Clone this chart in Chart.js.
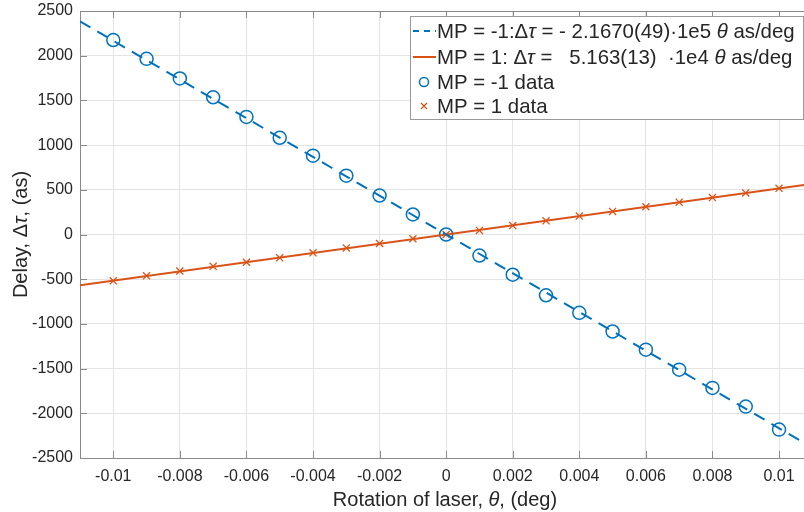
<!DOCTYPE html>
<html>
<head>
<meta charset="utf-8">
<script src="https://cdn.jsdelivr.net/npm/chart.js@4.4.1/dist/chart.umd.min.js"></script>
<style>
  html, body { margin: 0; padding: 0; background: #fff; overflow: hidden; }
  #wrap { width: 804px; height: 512px; overflow: hidden; }
</style>
</head>
<body>
<div id="wrap"><canvas id="delayChart" width="812" height="512"></canvas></div>
<script>
// rotation of laser (deg)
const theta = [-0.01, -0.009, -0.008, -0.007, -0.006, -0.005, -0.004, -0.003, -0.002, -0.001, 0,
               0.001, 0.002, 0.003, 0.004, 0.005, 0.006, 0.007, 0.008, 0.009, 0.01];
// measured delays (as)
const mpMinusData = [2175, 1965, 1745, 1535, 1315, 1082, 882, 658, 436, 224, 0,
                     -235, -450, -680, -876, -1085, -1288, -1512, -1716, -1925, -2182];
const mpPlusData = [-518, -462, -408, -356, -310, -261, -205, -150, -101, -48, 0,
                    46, 100, 153, 206, 258, 310, 362, 413, 465, 516];
// fitted lines, read at the edges of the axes
const fitTheta = [-0.011, 0.01075];
const mpMinusFit = [2384, -2329];
const mpPlusFit = [-568, 555];
// tick labels
const xTicks = [-0.01, -0.008, -0.006, -0.004, -0.002, 0, 0.002, 0.004, 0.006, 0.008, 0.01];
const yTicks = [-2500, -2000, -1500, -1000, -500, 0, 500, 1000, 1500, 2000, 2500];

const blue = '#0072BD';
const orange = '#D95319';
const textCol = '#262626';
const fontFam = '"Liberation Sans", Arial, Helvetica, sans-serif';

function pts(xs, ys) {
  return xs.map((x, i) => ({ x: x, y: ys[i] }));
}

// draws a row of text pieces, some italic
function drawPieces(ctx, pieces, x, y, size) {
  pieces.forEach(p => {
    ctx.font = (p[1] ? 'italic ' : '') + size + 'px ' + fontFam;
    ctx.fillText(p[0], x, y);
    x += ctx.measureText(p[0]).width;
  });
  return x;
}
function piecesWidth(ctx, pieces, size) {
  let w = 0;
  pieces.forEach(p => {
    ctx.font = (p[1] ? 'italic ' : '') + size + 'px ' + fontFam;
    w += ctx.measureText(p[0]).width;
  });
  return w;
}

const matlabLook = {
  id: 'matlabLook',
  afterDraw(chart) {
    const ctx = chart.ctx;
    const a = chart.chartArea;
    const xs = chart.scales.x, ys = chart.scales.y;
    ctx.save();
    // top border + inward ticks
    ctx.strokeStyle = '#8a8a8a';
    ctx.lineWidth = 1;
    ctx.beginPath();
    ctx.moveTo(a.left, a.top + 0.5);
    ctx.lineTo(a.right, a.top + 0.5);
    xTicks.forEach(v => {
      const px = Math.round(xs.getPixelForValue(v)) + 0.5;
      ctx.moveTo(px, a.bottom); ctx.lineTo(px, a.bottom - 7);
      ctx.moveTo(px, a.top); ctx.lineTo(px, a.top + 7);
    });
    yTicks.forEach(v => {
      const py = Math.round(ys.getPixelForValue(v)) + 0.5;
      ctx.moveTo(a.left, py); ctx.lineTo(a.left + 7, py);
    });
    ctx.stroke();

    // axis titles
    ctx.fillStyle = textCol;
    ctx.textBaseline = 'middle';
    const xt = [['Rotation of laser, ', false], ['θ', true], [', (deg)', false]];
    const xw = piecesWidth(ctx, xt, 20);
    drawPieces(ctx, xt, 445 - xw / 2, 500, 20);
    const yt = [['Delay, Δ', false], ['τ', true], [', (as)', false]];
    const yw = piecesWidth(ctx, yt, 20);
    ctx.translate(21, (a.top + a.bottom) / 2);
    ctx.rotate(-Math.PI / 2);
    drawPieces(ctx, yt, -yw / 2, 0, 20);
    ctx.restore();

    // legend box
    ctx.save();
    const bx = 410.5, by = 16.5, bw = 393, bh = 103;
    ctx.fillStyle = '#fff';
    ctx.fillRect(bx, by, bw, bh);
    ctx.strokeStyle = '#9a9a9a';
    ctx.lineWidth = 1;
    ctx.strokeRect(bx, by, bw, bh);
    const rows = [
      [['MP = -1:Δ', false], ['τ', true], [' = - 2.1670(49)·1e5 ', false], ['θ', true], [' as/deg', false]],
      [['MP = 1: Δ', false], ['τ', true], [' =   5.163(13)  ·1e4 ', false], ['θ', true], [' as/deg', false]],
      [['MP = -1 data', false]],
      [['MP = 1 data', false]]
    ];
    const rowY = [31, 57, 82, 106];
    ctx.fillStyle = textCol;
    ctx.textBaseline = 'middle';
    rows.forEach((r, i) => drawPieces(ctx, r, 437, rowY[i] + 1, 20.4));
    // symbols
    ctx.lineWidth = 2;
    ctx.strokeStyle = blue;
    ctx.setLineDash([6, 5]);
    ctx.beginPath(); ctx.moveTo(413, rowY[0]); ctx.lineTo(436, rowY[0]); ctx.stroke();
    ctx.setLineDash([]);
    ctx.strokeStyle = orange;
    ctx.beginPath(); ctx.moveTo(413, rowY[1]); ctx.lineTo(436, rowY[1]); ctx.stroke();
    ctx.lineWidth = 1.5;
    ctx.strokeStyle = blue;
    ctx.beginPath(); ctx.arc(424, rowY[2], 4.5, 0, Math.PI * 2); ctx.stroke();
    ctx.strokeStyle = orange;
    ctx.lineWidth = 1.2;
    ctx.beginPath();
    ctx.moveTo(421, rowY[3] - 3); ctx.lineTo(427, rowY[3] + 3);
    ctx.moveTo(427, rowY[3] - 3); ctx.lineTo(421, rowY[3] + 3);
    ctx.stroke();
    ctx.restore();
  }
};

new Chart(document.getElementById('delayChart').getContext('2d'), {
  type: 'scatter',
  data: {
    datasets: [
      {
        label: 'MP = -1 fit',
        data: pts(fitTheta, mpMinusFit),
        showLine: true,
        borderColor: blue,
        borderWidth: 2,
        borderDash: [12, 8],
        pointRadius: 0
      },
      {
        label: 'MP = 1 fit',
        data: pts(fitTheta, mpPlusFit),
        showLine: true,
        borderColor: orange,
        borderWidth: 2,
        pointRadius: 0
      },
      {
        label: 'MP = -1 data',
        data: pts(theta, mpMinusData),
        pointStyle: 'circle',
        pointRadius: 6.5,
        pointBorderWidth: 1.5,
        pointBorderColor: blue,
        pointBackgroundColor: 'rgba(0,0,0,0)'
      },
      {
        label: 'MP = 1 data',
        data: pts(theta, mpPlusData),
        pointStyle: 'crossRot',
        pointRadius: 5,
        pointBorderWidth: 1.3,
        pointBorderColor: orange
      }
    ]
  },
  options: {
    responsive: false,
    animation: false,
    layout: { padding: { top: 11, right: 0, left: 0, bottom: 0 } },
    plugins: {
      legend: { display: false },
      tooltip: { enabled: false }
    },
    scales: {
      x: {
        type: 'linear',
        min: -0.011,
        max: 0.01075,
        afterBuildTicks: s => { s.ticks = xTicks.map(v => ({ value: v })); },
        afterFit: s => { s.height = 54; },
        grid: { color: '#e3e3e3', drawTicks: false },
        border: { color: '#8a8a8a' },
        ticks: {
          color: textCol,
          font: { size: 16, family: fontFam },
          padding: 9,
          maxRotation: 0,
          autoSkip: false,
          callback: v => String(v)
        }
      },
      y: {
        min: -2500,
        max: 2500,
        afterBuildTicks: s => { s.ticks = yTicks.map(v => ({ value: v })); },
        afterFit: s => { s.width = 80; s.paddingTop = 0; s.paddingBottom = 0; },
        grid: { color: '#e3e3e3', drawTicks: false },
        border: { color: '#8a8a8a' },
        ticks: {
          color: textCol,
          font: { size: 16, family: fontFam },
          padding: 7,
          autoSkip: false,
          callback: v => String(v)
        }
      }
    }
  },
  plugins: [matlabLook]
});
</script>
</body>
</html>
